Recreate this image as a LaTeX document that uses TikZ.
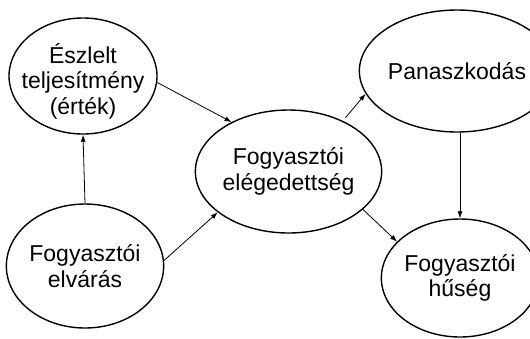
\documentclass[tikz,border=0pt]{standalone}
\usepackage{fontspec}
\setmainfont{Liberation Sans}
\usetikzlibrary{arrows.meta,shapes.geometric}
\tikzset{
  bubble/.style={draw, line width=1.4pt, ellipse, inner sep=0pt, align=center,
    font=\fontsize{23}{25.5}\selectfont},
  caption/.style={inner sep=0pt, align=center, font=\fontsize{23}{25.5}\selectfont},
  link/.style={line width=0.8pt, -{Latex[length=7pt,width=5pt]}}
}
\begin{document}
\begin{tikzpicture}[x=1pt,y=-1pt]
\useasboundingbox (0,0) rectangle (530,338);
% the five concepts
\node[bubble, minimum width=148pt, minimum height=116pt] (perf) at (83,76) {};
\node[caption] (perfText) at (83,81) {Észlelt\\teljesítmény\\(érték)};
\node[bubble, minimum width=146pt, minimum height=124pt] (expect) at (85,266)
  {Fogyasztói\\elvárás};
\node[bubble, minimum width=147pt, minimum height=123pt] (satisf) at (288.5,171.5)
  {Fogyasztói\\elégedettség};
\node[bubble, minimum width=140pt, minimum height=122pt] (compl) at (457,71)
  {Panaszkodás};
\node[bubble, minimum width=140pt, minimum height=118pt] (loyal) at (460,278)
  {Fogyasztói\\hűség};
% relations between them
\draw[link] (expect.north) -- (perf.south);
\draw[link] (perf.-5) -- (satisf.139);
\draw[link] (expect.4) -- (satisf.210);
\draw[link, shorten <=4pt] (satisf.43) -- (compl.194);
\draw[link] (loyal.north |- compl.south) -- (loyal.north);
\draw[link] (satisf.-27) -- (loyal.150);
\end{tikzpicture}
\end{document}
